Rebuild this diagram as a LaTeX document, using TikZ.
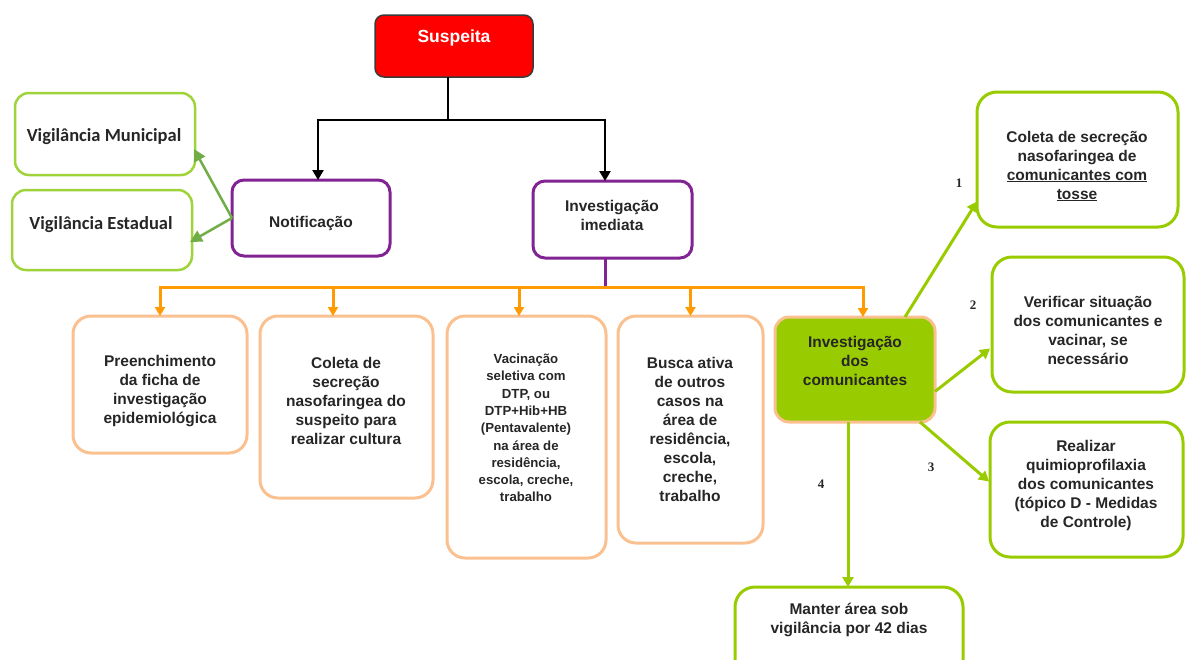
\documentclass[tikz,border=0pt]{standalone}
\usepackage{fontspec}
\setmainfont{Liberation Sans}
\newfontfamily\calib{Carlito}
\newfontfamily\numfont{Liberation Serif}
\usetikzlibrary{arrows.meta}
\definecolor{sred}{HTML}{FF0000}
\definecolor{sborder}{HTML}{3A3A3A}
\definecolor{purp}{HTML}{812392}
\definecolor{oline}{HTML}{FF9A00}
\definecolor{obox}{HTML}{FAC090}
\definecolor{lgreen}{HTML}{99CC00}
\definecolor{vgreen}{HTML}{9FD33A}
\definecolor{dgreen}{HTML}{70AD47}
\definecolor{txtc}{HTML}{262626}
\tikzset{
  boxbase/.style={inner sep=0pt, outer sep=0pt},
  susbox/.style={boxbase, draw=sborder, fill=sred, line width=1.5pt, rounded corners=9pt},
  purbox/.style={boxbase, draw=purp, line width=3pt, rounded corners=12pt},
  vigbox/.style={boxbase, draw=vgreen, line width=2.5pt, rounded corners=14pt},
  orbox/.style={boxbase, draw=obox, line width=3pt, rounded corners=18pt},
  grnbox/.style={boxbase, draw=obox, fill=lgreen, line width=3pt, rounded corners=14pt},
  rbox/.style={boxbase, draw=lgreen, line width=3pt, rounded corners=20pt},
  txt/.style={align=center, text=txtc, font=\bfseries\fontsize{15.5}{19}\selectfont, inner sep=0pt},
  smtxt/.style={align=center, text=txtc, font=\bfseries\fontsize{13.2}{17.3}\selectfont, inner sep=0pt},
  vigtxt/.style={align=center, text=txtc, font=\calib\bfseries\fontsize{18.5}{22}\selectfont, inner sep=0pt},
  numtxt/.style={text=txtc, font=\numfont\bfseries\fontsize{13}{15}\selectfont, inner sep=0pt},
  blkline/.style={draw=black, line width=2.5pt},
  blkarr/.style={blkline, -{Triangle[length=10pt,width=11pt]}},
  purline/.style={draw=purp, line width=3pt},
  orline/.style={draw=oline, line width=3pt},
  orarr/.style={orline, -{Triangle[length=9pt,width=10pt]}},
  grarr/.style={draw=lgreen, line width=3pt, -{Triangle[length=10pt,width=11pt]}},
  dgarr/.style={draw=dgreen, line width=2.5pt, -{Triangle[length=12pt,width=12pt]}},
}
\begin{document}
\begin{tikzpicture}[x=1pt,y=-1pt]
\useasboundingbox (0,0) rectangle (1186,659);
\clip (0,0) rectangle (1186,659);

% top
\node[susbox, minimum width=158, minimum height=62] (sus) at (454,46) {};
\node[align=center, text=white, font=\bfseries\fontsize{17.5}{20}\selectfont, inner sep=0pt] (sust) at (454,38) {Suspeita};

\node[purbox, minimum width=158, minimum height=76] (notif) at (311,218) {};
\node[txt] (notift) at (311,223) {Notificação};
\node[purbox, minimum width=159, minimum height=77] (inv) at (612.5,219.5) {};
\node[txt] (invt) at (612,215) {Investigação\\imediata};

% vigilancia
\node[vigbox, minimum width=180, minimum height=82] (vmun) at (105,134) {};
\node[vigtxt] (vmunt) at (104,137) {Vigilância Municipal};
\node[vigbox, minimum width=180, minimum height=80] (vest) at (102,230) {};
\node[vigtxt] (vestt) at (101,225) {Vigilância Estadual};

% bottom row
\node[orbox, minimum width=174, minimum height=137] (b1) at (160,384.5) {};
\node[txt] (b1t) at (160,391) {Preenchimento\\da ficha de\\investigação\\epidemiológica};
\node[orbox, minimum width=173, minimum height=182] (b2) at (346.5,407) {};
\node[txt] (b2t) at (346,401) {Coleta de\\secreção\\nasofaringea do\\suspeito para\\realizar cultura};
\node[orbox, minimum width=159, minimum height=242] (b3) at (526.5,437) {};
\node[smtxt] (b3t) at (526,428) {Vacinação\\seletiva com\\DTP, ou\\DTP+Hib+HB\\(Pentavalente)\\na área de\\residência,\\escola, creche,\\trabalho};
\node[orbox, minimum width=145, minimum height=227] (b4) at (690.5,429.5) {};
\node[txt] (b4t) at (690,429) {Busca ativa\\de outros\\casos na\\área de\\residência,\\escola,\\creche,\\trabalho};
\node[grnbox, minimum width=160, minimum height=105] (g) at (855,369.5) {};
\node[txt] (gt) at (855,361) {Investigação\\dos\\comunicantes};

% right
\node[rbox, minimum width=201, minimum height=135] (r1) at (1077.5,159.5) {};
\node[txt] (r1t) at (1077,166) {Coleta de secreção\\nasofaringea de\\\underline{comunicantes com}\\\underline{tosse}};
\node[rbox, minimum width=192, minimum height=135] (r2) at (1088,324.5) {};
\node[txt] (r2t) at (1088,330) {Verificar situação\\dos comunicantes e\\vacinar, se\\necessário};
\node[rbox, minimum width=193, minimum height=135] (r3) at (1086.5,489.5) {};
\node[txt] (r3t) at (1086,485) {Realizar\\quimioprofilaxia\\dos comunicantes\\(tópico D - Medidas\\de Controle)};
\node[rbox, minimum width=228, minimum height=93] (m) at (849,633.5) {};
\node[txt] (mt) at (849,620) {Manter área sob\\vigilância por 42 dias};

% black connectors
\coordinate (j1) at (448,120);
\draw[blkline] ([xshift=-6]sus.south) -- (j1);
\draw[blkarr] (j1) -| ([xshift=7]notif.north);
\draw[blkarr] (j1) -| ([xshift=-7.5]inv.north);

% purple and orange
\coordinate (oj) at (605,287);
\draw[purline] ([xshift=-7.5]inv.south) -- (oj);
\draw[orarr] (oj) -| (b1.north);
\draw[orarr] (oj) -| ([xshift=-13.5]b2.north);
\draw[orarr] (oj) -| ([xshift=-7.5]b3.north);
\draw[orarr] (oj) -| (b4.north);
\draw[orarr] (oj) -| ([xshift=8]g.north);

% vigilancia arrows
\draw[dgarr] (notif.west) -- ([shift={(-1,15)}]vmun.east);
\draw[dgarr] (notif.west) -- ([shift={(-2,12)}]vest.east);

% green arrows
\draw[grarr] ([xshift=-30]g.north east) -- ([shift={(0,42)}]r1.west);
\draw[grarr] ([yshift=-22]g.east) -- ([shift={(-2,24)}]r2.west);
\draw[grarr] ([xshift=-15]g.south east) -- ([shift={(-1,-8)}]r3.west);
\draw[grarr] ([xshift=-7]g.south) -- ([xshift=-1]m.north);

% numbers
\node[numtxt] (n1) at (959,183) {1};
\node[numtxt] (n2) at (973,305) {2};
\node[numtxt] (n3) at (931,467) {3};
\node[numtxt] (n4) at (821,484) {4};
\end{tikzpicture}
\end{document}
